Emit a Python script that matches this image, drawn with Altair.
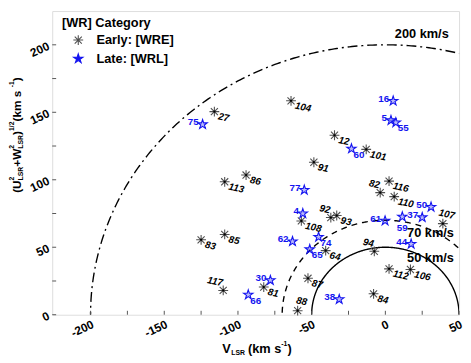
import altair as alt
import numpy as np
import pandas as pd

# ---------------- data ----------------
early_ids = [27, 104, 91, 86, 113, 12, 101, 116, 82, 110, 92, 93, 107, 108, 64, 94, 112, 106, 84, 85, 83, 87, 81, 117, 88]
early_v = [-116, -64, -48.5, -94.5, -109, -34.5, -13, 2.5, -3.5, 6, -37, -33, 39, -57, -40.5, -7.5, 2.5, 17, -8, -109, -125, -52.5, -82.5, -110, -59.5]
early_s = [150.5, 158.5, 113, 103.5, 98.5, 133, 122.5, 99, 90.5, 87.5, 72, 73.5, 67.5, 69.5, 47.5, 47, 34, 33.5, 15.5, 59.5, 55.5, 27, 20.5, 18, 3]
early_pos = ["r", "r", "r", "r", "r", "r", "r", "r", "ul", "r", "ul", "r", "u", "r", "r", "ul", "r", "r", "r", "r", "r", "r", "r", "ul", "u"]

late_ids = [75, 16, 5, 55, 60, 77, 4, 62, 74, 65, 30, 66, 61, 59, 37, 50, 44, 38]
late_v = [-124, 5.3, 3.8, 7.1, -23, -55, -56, -63, -45.3, -51.3, -78, -93, -0.2, 11.5, 25, 31, 17.5, -31.3]
late_s = [141, 158.4, 144, 142.4, 123, 92.4, 75, 54.3, 57.6, 48.4, 25.5, 14.8, 69.6, 72.6, 72.1, 79.8, 52.4, 11.4]
late_pos = ["l", "l", "l", "r", "r", "l", "l", "l", "r", "r", "l", "r", "l", "d", "l", "l", "l", "l"]

categories = ["Early: [WRE]", "Late: [WRL]"]
circle_radii = [200, 70, 50]
circle_labels = ["200 km/s", "70 km/s", "50 km/s"]
circle_label_v = [43, 46.5, 46.5]
circle_label_s = [207.6, 60.7, 42.1]

x_ticks_major = [-200, -150, -100, -50, 0, 50]
x_ticks_all = [-200, -175, -150, -125, -100, -75, -50, -25, 0, 25, 50]
y_ticks_major = [0, 50, 100, 150, 200]
y_ticks_all = [0, 25, 50, 75, 100, 125, 150, 175, 200]

# ---------------- setup ----------------
W, H = 414, 309
FONT = "Liberation Sans"
BLUE = "#1414f0"
XS = alt.Scale(domain=[-226, 50], nice=False, zero=False)
YS = alt.Scale(domain=[0, 225], nice=False, zero=False)

ASTERISK = "M-1,0L1,0M0,-1L0,1M-0.72,-0.72L0.72,0.72M-0.72,0.72L0.72,-0.72"
STAR = ("M0,-1L0.2245,-0.309L0.951,-0.309L0.363,0.118L0.588,0.809L0,0.382"
        "L-0.588,0.809L-0.363,0.118L-0.951,-0.309L-0.2245,-0.309Z")

x_axis = alt.Axis(values=x_ticks_major, labelAngle=-25, labelAlign="right", labelBaseline="top",
                  labelFontSize=12, labelFontWeight="bold", labelColor="black", labelPadding=4,
                  ticks=False, domain=False, grid=False, title=None, labelFlush=False,
                  labelOverlap=False, labelExpr="'' + datum.value", labelFont=FONT)
y_axis = alt.Axis(values=y_ticks_major, labelAngle=-25, labelAlign="right", labelBaseline="middle",
                  labelFontSize=12, labelFontWeight="bold", labelColor="black", labelPadding=4,
                  ticks=False, domain=False, grid=False, title=None, labelFlush=False,
                  labelOverlap=False, labelExpr="'' + datum.value", labelFont=FONT)


def X(f):
    return alt.X(f, type="quantitative", scale=XS, axis=x_axis)


def Y(f):
    return alt.Y(f, type="quantitative", scale=YS, axis=y_axis)


pts = pd.DataFrame({
    "id": [str(i) for i in early_ids + late_ids],
    "v": early_v + late_v,
    "s": early_s + late_s,
    "cat": [categories[0]] * len(early_ids) + [categories[1]] * len(late_ids),
    "pos": early_pos + late_pos,
})

# circles (reference curves)
rows = []
for r in circle_radii:
    for k, a in enumerate(np.linspace(0, np.pi, 361)):
        rows.append({"r": r, "k": k, "v": r * np.cos(a), "s": r * np.sin(a)})
circ = pd.DataFrame(rows)

layers = []
dashes = {200: [10, 4, 2, 4], 70: [6, 5], 50: [1, 0]}
for r in circle_radii:
    d = circ[circ.r == r]
    layers.append(
        alt.Chart(d).mark_line(color="black", strokeWidth=1.4, strokeDash=dashes[r], clip=True).encode(
            x=X("v"), y=Y("s"), order="k:Q")
    )

# inward ticks
layers.append(alt.Chart(pd.DataFrame({"v": x_ticks_all})).mark_rule(color="#555", strokeWidth=1).encode(
    x=X("v"), y=alt.value(H), y2=alt.value(H - 4)))
layers.append(alt.Chart(pd.DataFrame({"s": y_ticks_all})).mark_rule(color="#555", strokeWidth=1).encode(
    y=Y("s"), x=alt.value(0), x2=alt.value(4)))

# points with legend
legend = alt.Legend(title="[WR] Category", orient="none", legendX=10, legendY=6,
                    titleFontSize=13, titleFontWeight="bold", titleColor="black", titleFont=FONT,
                    labelFontSize=13, labelFontWeight="bold", labelColor="black", labelFont=FONT,
                    symbolSize=100, symbolStrokeWidth=1.1, padding=0, rowPadding=4, titlePadding=4,
                    symbolOffset=10, labelOffset=12)
layers.append(alt.Chart(pts).mark_point(size=100, strokeWidth=1.1, fillOpacity=0.3, opacity=1).encode(
    x=X("v"), y=Y("s"),
    color=alt.Color("cat:N", scale=alt.Scale(domain=categories, range=["#505050", BLUE]), legend=legend),
    shape=alt.Shape("cat:N", scale=alt.Scale(domain=categories, range=[ASTERISK, STAR]), legend=legend),
    fill=alt.Fill("cat:N", scale=alt.Scale(domain=categories, range=["transparent", BLUE]), legend=legend),
))
# centre dots of asterisks
layers.append(alt.Chart(pts[pts.cat == categories[0]]).mark_point(
    shape="circle", size=5, filled=True, color="black", opacity=1).encode(x=X("v"), y=Y("s")))

# point labels
early_style = dict(fontStyle="italic", fontWeight="bold", fontSize=10, angle=12, color="black", font=FONT,
                   baseline="middle")
late_style = dict(fontWeight="bold", fontSize=10, color=BLUE, font=FONT, baseline="middle")
early_cls = {"r": ("left", 5, 4), "ul": ("right", -2, -7), "u": ("center", 2, -10)}
late_cls = {"l": ("right", -4, -2), "r": ("left", 2, 6), "d": ("center", 0, 11)}
for cat, cls, style in [(categories[0], early_cls, early_style), (categories[1], late_cls, late_style)]:
    for key, (al, dx, dy) in cls.items():
        d = pts[(pts.cat == cat) & (pts.pos == key)]
        if len(d) == 0:
            continue
        layers.append(alt.Chart(d).mark_text(align=al, dx=dx, dy=dy, **style).encode(
            x=X("v"), y=Y("s"), text="id:N"))

# circle annotations
ann = pd.DataFrame({"t": circle_labels, "v": circle_label_v, "s": circle_label_s})
layers.append(alt.Chart(ann).mark_text(align="right", baseline="middle", fontSize=13, fontWeight="bold",
                                       color="black", font=FONT).encode(x=X("v"), y=Y("s"), text="t:N"))

# axis titles with sub/superscripts
EM = {"V": 0.667, "L": 0.611, "S": 0.667, "R": 0.722, "(": 0.333, ")": 0.333, "k": 0.556, "m": 0.889,
      " ": 0.278, "s": 0.556, "-": 0.333, "1": 0.556, "U": 0.722, "2": 0.556, "+": 0.584, "W": 0.944,
      "/": 0.278}


def tw(t, fs):
    return sum(EM.get(c, 0.55) for c in t) * fs


one = pd.DataFrame({"a": [0]})


def piece(t, x, y, fs, angle=0):
    kw = dict(align="left", baseline="middle", fontSize=fs, fontWeight="bold", color="black", font=FONT)
    if angle:
        kw["angle"] = angle
    return alt.Chart(one).mark_text(**kw).encode(x=alt.value(x), y=alt.value(y), text=alt.value(t))


# x title: V_LSR (km s^-1)
yc = 343.5
x0 = 173
layers.append(piece("V", x0, yc, 13)); x0 += tw("V", 13) + 0.5
layers.append(piece("LSR", x0, yc + 4, 7)); x0 += tw("LSR", 7) + 3
layers.append(piece("(km s", x0, yc, 13)); x0 += tw("(km s", 13)
layers.append(piece("-1", x0, yc - 5, 7)); x0 += tw("-1", 7)
layers.append(piece(")", x0, yc, 13))

# y title: (U^2_LSR + W^2_LSR)^1/2 (km s^-1), rotated
xc = -36
y0 = 185
fs = 12
for t, kind in [("(", "m"), ("U", "m"), ("2|LSR", "ss"), ("+", "m"), ("W", "m"), ("2|LSR", "ss"),
                (")", "m"), ("1/2", "sup"), (" (km s", "m"), ("-1", "sup"), (")", "m")]:
    if kind == "m":
        layers.append(piece(t, xc, y0, fs, 270)); y0 -= tw(t, fs)
    elif kind == "sup":
        layers.append(piece(t, xc - 5, y0, 7, 270)); y0 -= tw(t, 7)
    else:
        sup, sub = t.split("|")
        layers.append(piece(sup, xc - 5, y0, 7, 270))
        layers.append(piece(sub, xc + 4, y0, 7, 270)); y0 -= tw(sub, 7)

chart = alt.layer(*layers).properties(
    width=W, height=H,
    autosize=alt.AutoSizeParams(type="none"),
    padding={"left": 45, "top": 0, "right": 4, "bottom": 46},
).configure_view(stroke="#3a3a3a", strokeWidth=2).configure(font=FONT)

chart.save("out.html", embed_options={"renderer": "svg", "actions": False})
